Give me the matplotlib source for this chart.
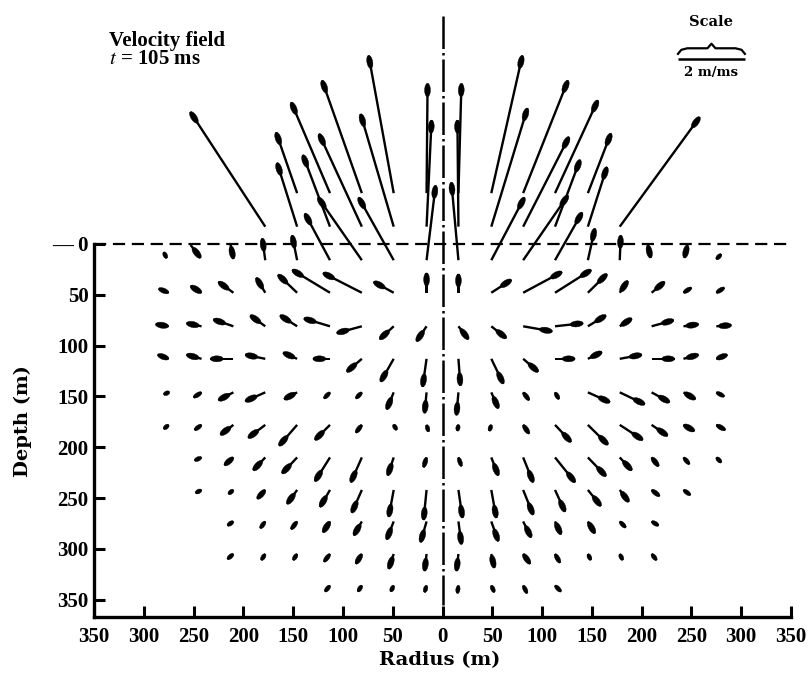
import matplotlib
matplotlib.use("Agg")
import matplotlib.pyplot as plt
from matplotlib.collections import EllipseCollection
import numpy as np

# ---------------- data ----------------
col_radius = [16, 49, 81, 113, 146, 178, 210, 242, 275]          # m, grid columns (both sides)
row_depth = [-50, -17, 16, 48, 81, 113, 146, 178, 210, 242, 273, 305, 336]  # m, grid rows

# each row: (signed column index, radial velocity u [m/ms], upward velocity w [m/ms])
row_m50 = [(-5, -0.63, 1.78), (-4, -1.16, 2.66), (-3, -1.19, 3.30), (-2, -0.75, 4.03), (-1, 0.03, 3.21),
           (1, 0.09, 3.21), (2, 0.93, 4.03), (3, 1.34, 3.30), (4, 1.28, 2.72), (5, 0.69, 1.75)]
row_m17 = [(-6, -2.24, 3.36), (-5, -0.60, 1.87), (-4, -0.81, 2.10), (-3, -1.28, 2.72), (-2, -0.99, 3.30),
           (-1, 0.15, 3.12), (1, -0.03, 3.12), (2, 1.08, 3.47), (3, 1.37, 2.63), (4, 0.75, 1.96),
           (5, 0.57, 1.75), (6, 2.39, 3.21)]
row_16 = [(-6, -0.09, 0.64), (-5, -0.15, 0.73), (-4, -0.75, 1.37), (-3, -1.31, 1.84), (-2, -1.05, 1.84),
          (-1, 0.27, 2.19), (1, -0.21, 2.28), (2, 0.99, 1.84), (3, 1.34, 1.90), (4, 0.81, 1.40),
          (5, 0.21, 0.93), (6, 0.03, 0.73)]
row_48 = [(-9, -0.30, 0.12), (-8, -0.33, 0.20), (-7, -0.45, 0.32), (-6, -0.27, 0.44), (-5, -0.57, 0.53),
          (-4, -1.13, 0.67), (-3, -1.16, 0.58), (-2, -0.60, 0.32), (-1, 0.00, 0.58),
          (1, 0.00, 0.55), (2, 0.60, 0.38), (3, 1.16, 0.61), (4, 1.08, 0.67), (5, 0.57, 0.55),
          (6, 0.24, 0.35), (7, 0.39, 0.32), (8, 0.24, 0.15), (9, 0.24, 0.15)]
row_81 = [(-9, -0.39, 0.06), (-8, -0.45, 0.09), (-7, -0.60, 0.20), (-6, -0.45, 0.32), (-5, -0.51, 0.32),
          (-4, -0.78, 0.23), (-3, -0.75, -0.20), (-2, -0.42, -0.38), (-1, -0.30, -0.44),
          (1, 0.30, -0.38), (2, 0.45, -0.35), (3, 0.87, -0.15), (4, 0.84, 0.09), (5, 0.54, 0.32),
          (6, 0.36, 0.23), (7, 0.66, 0.18), (8, 0.45, 0.06), (9, 0.45, 0.03)]
row_113 = [(-9, -0.33, 0.12), (-8, -0.45, 0.12), (-7, -0.69, 0.00), (-6, -0.60, 0.12), (-5, -0.42, 0.18),
           (-4, -0.51, 0.00), (-3, -0.45, -0.38), (-2, -0.39, -0.67), (-1, -0.12, -0.82),
           (1, 0.06, -0.79), (2, 0.36, -0.73), (3, 0.45, -0.38), (4, 0.60, 0.00), (5, 0.42, 0.20),
           (6, 0.66, 0.12), (7, 0.69, 0.00), (8, 0.45, 0.12), (9, 0.33, 0.12)]
row_146 = [(-9, -0.15, -0.06), (-8, -0.24, -0.15), (-7, -0.45, -0.23), (-6, -0.60, -0.26), (-5, -0.39, -0.20),
           (-4, -0.18, -0.18), (-3, -0.18, -0.18), (-2, -0.21, -0.50), (-1, -0.06, -0.61),
           (1, -0.06, -0.67), (2, 0.21, -0.47), (3, 0.18, -0.23), (4, 0.12, -0.20), (5, 0.66, -0.29),
           (6, 0.75, -0.35), (7, 0.54, -0.29), (8, 0.36, -0.20), (9, 0.24, -0.12)]
row_178 = [(-9, -0.15, -0.12), (-8, -0.21, -0.15), (-7, -0.39, -0.29), (-6, -0.51, -0.38), (-5, -0.54, -0.61),
           (-4, -0.45, -0.44), (-3, -0.18, -0.23), (-2, 0.09, -0.15), (-1, 0.06, -0.20),
           (1, -0.03, -0.18), (2, -0.06, -0.18), (3, 0.18, -0.26), (4, 0.48, -0.50), (5, 0.60, -0.58),
           (6, 0.69, -0.44), (7, 0.48, -0.32), (8, 0.33, -0.18), (9, 0.27, -0.15)]
row_210 = [(-8, -0.21, -0.09), (-7, -0.27, -0.23), (-6, -0.36, -0.38), (-5, -0.45, -0.47),
           (-4, -0.45, -0.70), (-3, -0.33, -0.73), (-2, -0.18, -0.53), (-1, -0.09, -0.29),
           (1, 0.09, -0.26), (2, 0.21, -0.53), (3, 0.30, -0.73), (4, 0.60, -0.73), (5, 0.54, -0.55),
           (6, 0.36, -0.38), (7, 0.21, -0.26), (8, 0.18, -0.20), (9, 0.15, -0.15)]
row_242 = [(-8, -0.18, -0.09), (-7, -0.15, -0.12), (-6, -0.24, -0.26), (-5, -0.30, -0.41),
           (-4, -0.30, -0.50), (-3, -0.30, -0.67), (-2, -0.15, -0.79), (-1, -0.09, -0.88),
           (1, 0.12, -0.82), (2, 0.15, -0.82), (3, 0.30, -0.73), (4, 0.30, -0.64), (5, 0.39, -0.47),
           (6, 0.27, -0.35), (7, 0.24, -0.18), (8, 0.21, -0.15)]
row_273 = [(-7, -0.18, -0.12), (-6, -0.15, -0.20), (-5, -0.18, -0.23), (-4, -0.21, -0.32),
           (-3, -0.24, -0.41), (-2, -0.21, -0.53), (-1, -0.18, -0.61),
           (1, 0.09, -0.67), (2, 0.21, -0.58), (3, 0.24, -0.47), (4, 0.18, -0.38), (5, 0.21, -0.35),
           (6, 0.18, -0.18), (7, 0.21, -0.12)]
row_305 = [(-7, -0.18, -0.15), (-6, -0.12, -0.18), (-5, -0.12, -0.18), (-4, -0.18, -0.23),
           (-3, -0.18, -0.29), (-2, -0.15, -0.44), (-1, -0.06, -0.50),
           (1, -0.06, -0.50), (2, 0.09, -0.41), (3, 0.21, -0.29), (4, 0.15, -0.26), (5, 0.09, -0.18),
           (6, 0.09, -0.18), (7, 0.15, -0.18)]
row_336 = [(-4, -0.15, -0.18), (-3, -0.12, -0.18), (-2, -0.09, -0.18), (-1, -0.06, -0.20),
           (1, -0.03, -0.23), (2, 0.09, -0.20), (3, 0.12, -0.23), (4, 0.18, -0.18)]
field_rows = [row_m50, row_m17, row_16, row_48, row_81, row_113, row_146,
              row_178, row_210, row_242, row_273, row_305, row_336]

# near-surface points beyond the spall zone (moving slightly downward)
surf_x = [-280, -253, -213, 206, 246, 280]
surf_depth = [8, 1, 0, 0, 1, 10]
surf_u = [0.09, 0.30, 0.09, 0.09, -0.09, -0.15]
surf_w = [-0.18, -0.38, -0.44, -0.41, -0.38, -0.15]

m_per_unit_vel = 33.6      # arrow length (m) for 1 m/ms
scale_value = 2            # m/ms shown on the scale bar

x_ticks = [-350, -300, -250, -200, -150, -100, -50, 0, 50, 100, 150, 200, 250, 300, 350]
y_ticks = [0, 50, 100, 150, 200, 250, 300, 350]

# ---------------- figure ----------------
plt.rcParams['mathtext.fontset'] = 'stix'
W, H = 811, 674
fig = plt.figure(figsize=(W / 100, H / 100), dpi=100)
ax = fig.add_axes([94 / W, (H - 617) / H, 697 / W, 617 / H])
ax.set_xlim(-350, 350)
ax.set_ylim(367, -240)

X, Y, U, V = [], [], [], []
for depth, row in zip(row_depth, field_rows):
    for c, u, w in row:
        X.append(np.sign(c) * col_radius[abs(c) - 1])
        Y.append(depth)
        U.append(u)
        V.append(-w)
X += surf_x
Y += surf_depth
U += surf_u
V += [-w for w in surf_w]
X, Y, U, V = map(np.asarray, (X, Y, U, V))

# shafts
ax.quiver(X, Y, U, V, angles='xy', scale_units='xy', scale=1 / m_per_unit_vel,
          pivot='tail', color='black', width=0.0034, headwidth=1, headlength=0,
          headaxislength=0, minlength=0, zorder=3)

# elongated (tear-drop like) heads at the arrow tips
dx = U * m_per_unit_vel
dy = V * m_per_unit_vel
L = np.hypot(dx, dy)
ux, uy = dx / L, dy / L
head_len = np.clip(L, 6.5, 13.0)
head_w = np.clip(0.45 * head_len, 4.2, 6.0)
cx = X + ux * (L - head_len / 2)
cy = Y + uy * (L - head_len / 2)
ang = np.degrees(np.arctan2(dy, dx))
ec = EllipseCollection(head_len, head_w, ang, units='xy', offsets=np.column_stack([cx, cy]),
                       offset_transform=ax.transData, facecolors='black', edgecolors='black',
                       linewidths=0.3, zorder=4)
ax.add_collection(ec)

# ground surface and axis of symmetry
ax.plot([-350, 350], [0, 0], color='black', lw=1.6, dashes=(5.5, 3.0), zorder=2)
ax.plot([0, 0], [-224, 355], color='black', lw=1.8, dashes=(13, 1.6, 1.0, 1.6), zorder=2)

# spines / ticks
for s in ['top', 'right']:
    ax.spines[s].set_visible(False)
ax.spines['left'].set_bounds(0, 367)
ax.spines['left'].set_linewidth(2.4)
ax.spines['bottom'].set_linewidth(2.4)
ax.set_xticks(x_ticks)
ax.set_xticklabels([str(abs(v)) for v in x_ticks])
ax.set_yticks(y_ticks)
ax.set_yticklabels(['\u2014 0'] + [str(v) for v in y_ticks[1:]])
ax.tick_params(axis='x', direction='in', length=8, width=2.2, pad=7)
ax.tick_params(axis='y', direction='in', length=8, width=2.2, pad=4)
for lab in ax.get_xticklabels() + ax.get_yticklabels():
    lab.set_fontfamily('Liberation Serif')
    lab.set_fontweight('bold')
    lab.set_fontsize(15)

ax.set_xlabel('Radius (m)', fontfamily='DejaVu Serif', fontweight='bold', fontsize=14)
ax.set_ylabel('Depth (m)', fontfamily='DejaVu Serif', fontweight='bold', fontsize=14)
ax.xaxis.set_label_coords(0.496, -0.055)
ax.yaxis.set_label_coords(-0.089, 0.318)

# annotations
ax.text(-335, -200, 'Velocity field', fontfamily='Liberation Serif', fontweight='bold',
        fontsize=15, ha='left', va='center')
ax.text(-335, -182, r'$\it{t}$ = 105 ms', fontfamily='Liberation Serif', fontweight='bold',
        fontsize=15, ha='left', va='center')

bar_x0 = 236.5
bar_len = scale_value * m_per_unit_vel
bar_y = -182
ax.plot([bar_x0, bar_x0 + bar_len], [bar_y, bar_y], color='black', lw=1.8, solid_capstyle='butt')
bx = bar_x0 + np.array([0, 0.05, 0.14, 0.44, 0.5, 0.56, 0.86, 0.95, 1.0]) * bar_len
by = bar_y + np.array([-5, -9, -10.5, -10.5, -15, -10.5, -10.5, -9, -5])
ax.plot(bx, by, color='black', lw=1.6, solid_joinstyle='round')
ax.text(bar_x0 + bar_len / 2, -218, 'Scale', fontfamily='DejaVu Serif', fontweight='bold',
        fontsize=10.5, ha='center', va='center')
ax.text(bar_x0 + bar_len / 2, -169, f'{scale_value} m/ms', fontfamily='DejaVu Serif',
        fontweight='bold', fontsize=9.5, ha='center', va='center')

fig.savefig('out.png', dpi=100, facecolor='white')
